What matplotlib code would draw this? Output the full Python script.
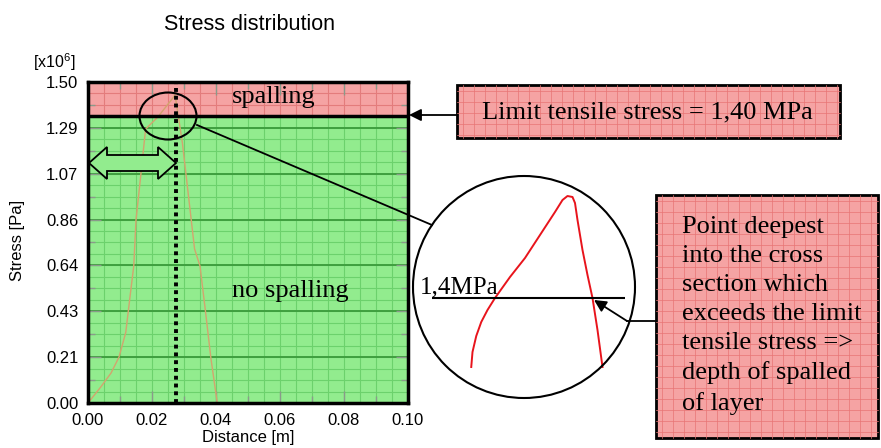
import numpy as np
import matplotlib
matplotlib.use("Agg")
import matplotlib.pyplot as plt
from matplotlib.patches import Rectangle, Ellipse, Circle, Polygon

plt.rcParams["font.family"] = ["Liberation Sans", "DejaVu Sans"]
plt.rcParams["mathtext.fontset"] = "custom"
plt.rcParams["mathtext.rm"] = "Liberation Sans"

# stress curve (distance in m, stress in MPa)
dist = [0.0, 0.004, 0.0072, 0.0097, 0.0118, 0.0134, 0.0143, 0.0150, 0.0165, 0.0180,
        0.0218, 0.0265, 0.0272, 0.0295, 0.0333, 0.0350, 0.0367, 0.0384, 0.0404]
stress = [0.0, 0.075, 0.14, 0.215, 0.33, 0.53, 0.64, 0.855, 1.065, 1.28,
          1.336, 1.425, 1.44, 1.215, 0.72, 0.64, 0.43, 0.21, 0.0]

# magnified part of the curve shown inside the circle
zoom_dist = [0.0189, 0.0190, 0.0193, 0.0197, 0.0202, 0.0208, 0.0220, 0.0232, 0.0244, 0.0256,
             0.0262, 0.0266, 0.0270, 0.0272, 0.0274, 0.0278, 0.0282, 0.0286, 0.0290, 0.0294]
zoom_stress = [1.3655, 1.373, 1.381, 1.388, 1.394, 1.400, 1.4105, 1.420, 1.4315, 1.443,
               1.449, 1.451, 1.4505, 1.4475, 1.439, 1.424, 1.4115, 1.400, 1.384, 1.3655]

x_ticks = [0.00, 0.02, 0.04, 0.06, 0.08, 0.10]
x_labels = ["0.00", "0.02", "0.04", "0.06", "0.08", "0.10"]
y_ticks = [i * 1.5 / 7 for i in range(8)]
y_labels = ["0.00", "0.21", "0.43", "0.64", "0.86", "1.07", "1.29", "1.50"]

limit_mpa = 1.40      # value quoted in the text
limit_line = 1.34     # where the boundary is drawn on the chart
depth = 0.0274        # dotted line: deepest point over the limit

box_text = ("Point deepest\ninto the cross\nsection which\nexceeds the limit\n"
            "tensile stress =>\ndepth of spalled\nof layer")

W, H = 881, 448
green = "#92ec8e"
pink = "#f5a3a3"
serif = ["Liberation Serif", "DejaVu Serif"]


def px_rect(x0, y0, x1, y1):
    return [x0 / W, 1 - y1 / H, (x1 - x0) / W, (y1 - y0) / H]


fig = plt.figure(figsize=(W / 100, H / 100), dpi=100)

# ---- main plot
ax = fig.add_axes(px_rect(88, 82, 408, 403))
ax.set_xlim(0, 0.1)
ax.set_ylim(0, 1.5)
ax.axhspan(0, limit_line, color=green, lw=0, zorder=0)
ax.axhspan(limit_line, 1.5, color=pink, lw=0, zorder=0)

xg = np.arange(0, 0.1001, 0.005)
yg = np.arange(0, 1.5001, 1.5 / 28)
ax.vlines(xg, 0, limit_line, color="#6cd16c", lw=0.8, zorder=0.5)
ax.hlines(yg[yg < limit_line], 0, 0.1, color="#6cd16c", lw=0.8, zorder=0.5)
ax.vlines(xg, limit_line, 1.5, color="#e37c7c", lw=0.8, zorder=0.5)
ax.hlines(yg[yg > limit_line], 0, 0.1, color="#e37c7c", lw=0.8, zorder=0.5)
ax.hlines([y for y in y_ticks[1:] if y < limit_line], 0, 0.1, color="#3f9f3f", lw=1.4, zorder=0.6)

ax.plot(dist, stress, color="#d3a46e", lw=1.0, zorder=2)
ax.axvline(depth, color="k", ls=(0, (1, 1)), lw=2.8, zorder=3)
ax.axhline(limit_line, color="k", lw=2.5, zorder=3)

ax.set_xticks(x_ticks)
ax.set_xticklabels(x_labels)
ax.set_xticks(np.arange(0.01, 0.1, 0.02), minor=True)
ax.set_yticks(y_ticks)
ax.set_yticklabels(y_labels)
ax.set_yticks([y + 1.5 / 14 for y in y_ticks[:-1]], minor=True)
ax.tick_params(which="both", direction="in", top=True, right=True, color="#8a9a8a", width=1)
ax.tick_params(which="major", length=9, labelsize=12, pad=7)
ax.tick_params(which="minor", length=5)
for s in ax.spines.values():
    s.set_linewidth(2.5)

fig.text(249 / W, 1 - 25 / H, "Stress distribution", fontsize=15.5, ha="center", va="center")
fig.text(54 / W, 1 - 62 / H, r"[x10$^{\mathrm{6}}$]", fontsize=11.5, ha="center", va="center")
fig.text(18 / W, 1 - 240 / H, "Stress [Pa]", fontsize=12, rotation=90, ha="center", va="center")
fig.text(248 / W, 1 - 437 / H, "Distance [m]", fontsize=12, ha="center", va="center")

# ---- magnified view inside the circle
ins = fig.add_axes(px_rect(430, 190, 630, 370))
ins.set_xlim(0.0156, 0.0316)
ins.set_ylim(1.364, 1.454)
ins.axis("off")
ins.plot(zoom_dist, zoom_stress, color="#e8141c", lw=1.4)
ins.hlines(limit_mpa, 0.01576, 0.0312, color="k", lw=1.5)

# ---- annotation layer in pixel coordinates
ov = fig.add_axes([0, 0, 1, 1], zorder=10)
ov.set_xlim(0, W)
ov.set_ylim(H, 0)
ov.axis("off")

ov.text(274, 97, "spalling", family=serif, fontsize=19, ha="center", va="center")
ov.text(290, 291, "no spalling", family=serif, fontsize=19, ha="center", va="center")

arrow = [(89, 163), (107, 147), (107, 155), (158, 155), (158, 147), (176, 163),
         (158, 179), (158, 171), (107, 171), (107, 179)]
ov.add_patch(Polygon(arrow, closed=True, fc=green, ec="k", lw=1.3))

ov.add_patch(Ellipse((168, 116), 57, 47, fill=False, ec="k", lw=1.5))
ov.plot([197, 432], [125, 225], color="k", lw=1.3)
ov.add_patch(Circle((524, 287), 111, fill=False, ec="k", lw=1.5))
ov.text(420, 293, "1,4MPa", family=serif, fontsize=18, ha="left", va="baseline")


def paper_box(x0, y0, x1, y1):
    ov.add_patch(Rectangle((x0, y0), x1 - x0, y1 - y0, fc=pink, ec="none"))
    for x in np.arange(x0 + 6, x1, 11):
        ov.plot([x, x], [y0, y1], color="#e87474", lw=0.5)
    for y in np.arange(y0 + 6, y1, 11):
        ov.plot([x0, x1], [y, y], color="#e87474", lw=0.5)
    ov.add_patch(Rectangle((x0, y0), x1 - x0, y1 - y0, fill=False, ec="k", lw=2))


paper_box(457, 85, 840, 138)
ov.text(647, 112, f"Limit tensile stress = {limit_mpa:.2f} MPa".replace(".", ","),
        family=serif, fontsize=19, ha="center", va="center")
ov.annotate("", xy=(409, 115), xytext=(457, 115),
            arrowprops=dict(arrowstyle="-|>", color="k", lw=1.3, mutation_scale=18,
                            shrinkA=0, shrinkB=0))

paper_box(656, 195, 878, 438)
ov.text(682, 216, box_text, family=serif, fontsize=19, ha="left", va="top", linespacing=1.41)
ov.plot([656, 627], [321, 321], color="k", lw=1.3)
ov.annotate("", xy=(594, 300), xytext=(627, 321),
            arrowprops=dict(arrowstyle="-|>", color="k", lw=1.3, mutation_scale=18,
                            shrinkA=0, shrinkB=0))

fig.savefig("out.png", dpi=100)
